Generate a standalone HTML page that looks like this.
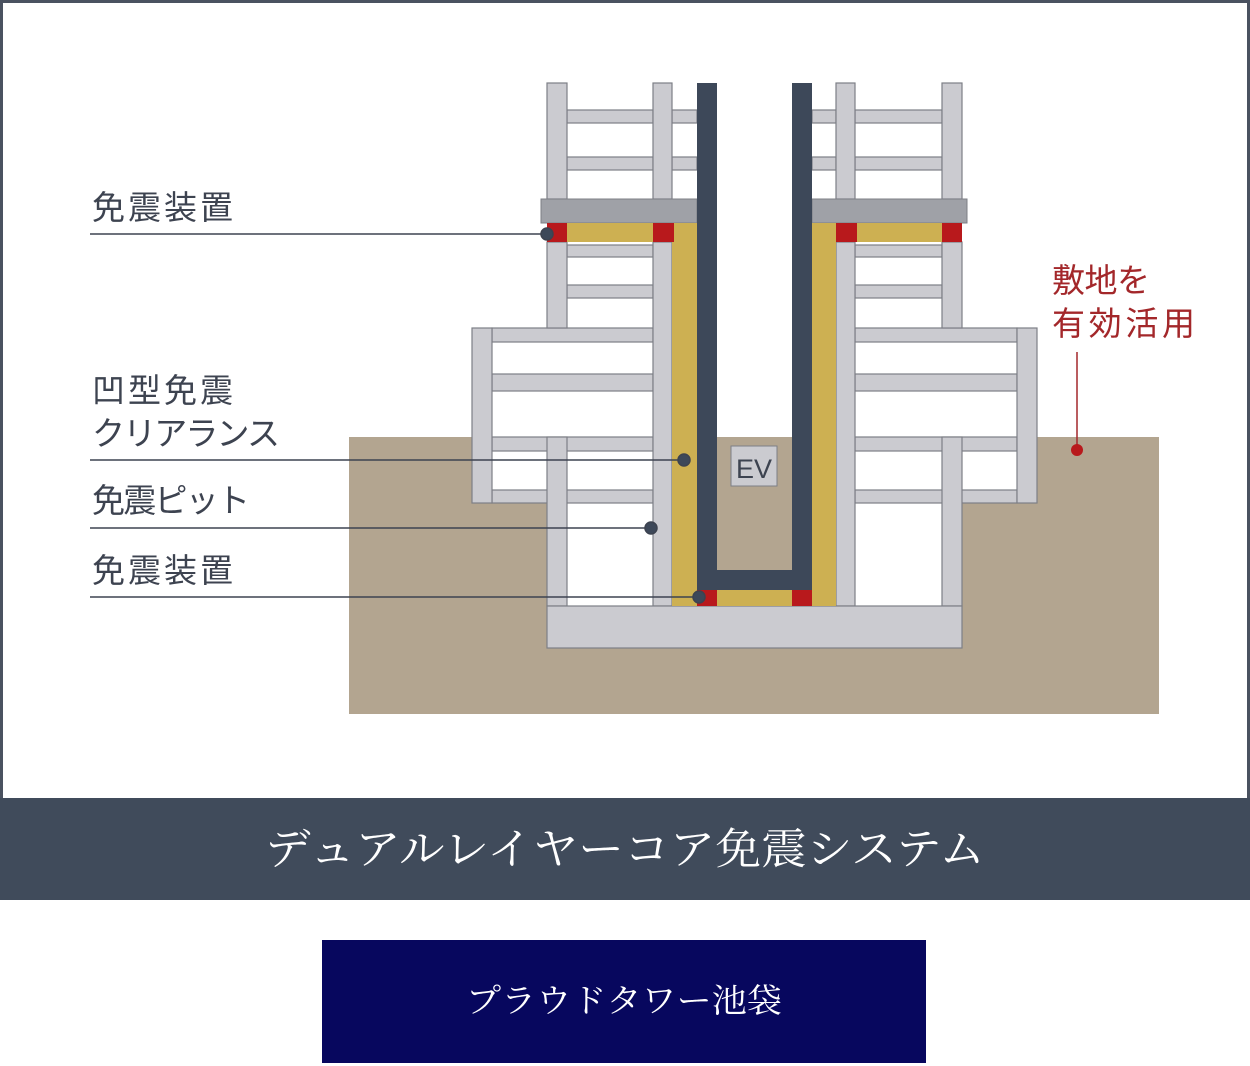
<!DOCTYPE html>
<html><head><meta charset="utf-8"><style>
html,body{margin:0;padding:0;background:#fff;}
svg{display:block;}
</style></head><body>
<svg width="1250" height="1066" viewBox="0 0 1250 1066" xmlns="http://www.w3.org/2000/svg">
<rect x="1.5" y="1.5" width="1247" height="800" fill="#fff" stroke="#4a5260" stroke-width="3"/>
<!-- ground -->
<rect x="349" y="437" width="810" height="277" fill="#b3a590"/>
<!-- white interiors -->
<g fill="#fff">
<rect x="472" y="328" width="181" height="175"/>
<rect x="547" y="437" width="106" height="169"/>
<rect x="855" y="328" width="182" height="175"/>
<rect x="855" y="437" width="107" height="169"/>
</g>
<g fill="#cbcbd0" stroke="#7d7f86" stroke-width="1.2">
<rect x="567" y="110" width="86" height="13"/><rect x="567" y="157" width="86" height="13"/>
<rect x="672" y="110" width="25" height="13"/><rect x="672" y="157" width="25" height="13"/>
<rect x="567" y="245" width="86" height="12"/><rect x="567" y="285" width="86" height="13"/>
<rect x="492" y="328" width="161" height="14"/><rect x="492" y="374" width="161" height="17"/>
<rect x="492" y="437" width="161" height="14"/><rect x="492" y="490" width="161" height="13"/>
<rect x="472" y="328" width="20" height="175"/>
<rect x="547" y="83" width="20" height="116"/><rect x="547" y="242" width="20" height="86"/>
<rect x="547" y="437" width="20" height="169"/>
<rect x="653" y="83" width="19" height="116"/><rect x="653" y="242" width="19" height="364"/>
<rect x="855" y="110" width="87" height="13"/><rect x="855" y="157" width="87" height="13"/>
<rect x="812" y="110" width="24" height="13"/><rect x="812" y="157" width="24" height="13"/>
<rect x="855" y="245" width="87" height="12"/><rect x="855" y="285" width="87" height="13"/>
<rect x="855" y="328" width="162" height="14"/><rect x="855" y="374" width="162" height="17"/>
<rect x="855" y="437" width="162" height="14"/><rect x="855" y="490" width="162" height="13"/>
<rect x="1017" y="328" width="20" height="175"/>
<rect x="836" y="83" width="19" height="116"/><rect x="836" y="242" width="19" height="364"/>
<rect x="942" y="83" width="20" height="116"/><rect x="942" y="242" width="20" height="86"/>
<rect x="942" y="437" width="20" height="169"/>
<rect x="547" y="606" width="415" height="42"/>
</g>
<rect x="541" y="199" width="156" height="24" fill="#9fa1a7" stroke="#7d7f86"/>
<rect x="812" y="199" width="155" height="24" fill="#9fa1a7" stroke="#7d7f86"/>
<g fill="#cdb052">
<rect x="567" y="223" width="86" height="19"/><rect x="672" y="223" width="25" height="383"/>
<rect x="857" y="223" width="85" height="19"/><rect x="812" y="223" width="24" height="383"/>
<rect x="717" y="590" width="75" height="16"/>
</g>
<g fill="#b8191c">
<rect x="547" y="223" width="20" height="19"/><rect x="653" y="223" width="21" height="19"/>
<rect x="836" y="223" width="21" height="19"/><rect x="942" y="223" width="20" height="19"/>
<rect x="697" y="590" width="20" height="16"/><rect x="792" y="590" width="20" height="16"/>
</g>
<g fill="#3d4859">
<rect x="697" y="83" width="20" height="507"/><rect x="792" y="83" width="20" height="507"/>
<rect x="697" y="570" width="115" height="20"/>
</g>
<rect x="731" y="446" width="46" height="40" fill="#cbcbd0" stroke="#7d7f86"/>
<text x="754" y="478" font-family="Liberation Sans, sans-serif" font-size="27" fill="#3d4350" text-anchor="middle">EV</text>
<g stroke="#3d4350" stroke-width="1.5" fill="#3d4859">
<line x1="90" y1="234" x2="547" y2="234"/><circle cx="547" cy="234" r="6"/>
<line x1="90" y1="460" x2="684" y2="460"/><circle cx="684" cy="460" r="6"/>
<line x1="90" y1="528" x2="651" y2="528"/><circle cx="651" cy="528" r="6"/>
<line x1="90" y1="597" x2="699" y2="597"/><circle cx="699" cy="597" r="6"/>
</g>
<line x1="1077" y1="352" x2="1077" y2="450" stroke="#a3272a" stroke-width="1.5"/>
<circle cx="1077" cy="450" r="6" fill="#b8191c"/>
<g font-family="Liberation Sans, 'Noto Sans CJK JP', sans-serif" font-size="33" fill="#3d4350" lengthAdjust="spacing">
<text x="92" y="219" textLength="141">免震装置</text>
<text x="92" y="402" textLength="141">凹型免震</text>
<text x="92" y="445" textLength="188">クリアランス</text>
<text x="92" y="512" textLength="158">免震ピット</text>
<text x="92" y="582" textLength="141">免震装置</text>
<text x="1052" y="292" fill="#a3272a" textLength="98">敷地を</text>
<text x="1052" y="335" fill="#a3272a" textLength="143">有効活用</text>
</g>
<rect x="0" y="798" width="1250" height="102" fill="#404b5b"/>
<text x="265" y="864" font-family="'Noto Serif CJK SC', serif" font-size="43" fill="#fff" textLength="720" lengthAdjust="spacingAndGlyphs">デュアルレイヤーコア免震システム</text>
<text x="466" y="1012" font-family="'Noto Serif CJK SC', serif" font-size="33" fill="#fff" textLength="316" lengthAdjust="spacingAndGlyphs">プラウドタワー池袋</text>
<rect x="322" y="940" width="604" height="123" fill="#07075e"/>
<text x="466" y="1012" font-family="'Noto Serif CJK SC', serif" font-size="33" fill="#fff" textLength="316" lengthAdjust="spacingAndGlyphs">プラウドタワー池袋</text>
</svg>
</body></html>
